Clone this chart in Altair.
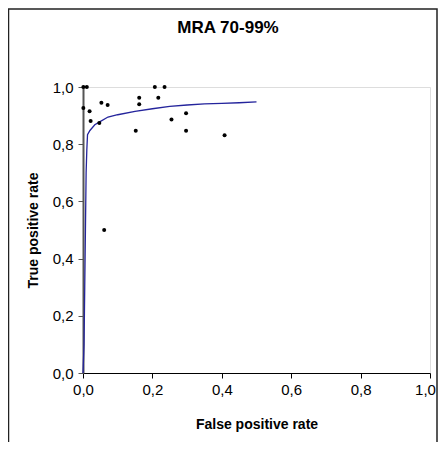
import altair as alt
import pandas as pd

# Observed study points (false positive rate, true positive rate)
pt_fpr = [0.001, 0.011, 0.207, 0.235, 0.001, 0.019, 0.022, 0.053, 0.071, 0.047,
          0.162, 0.162, 0.217, 0.152, 0.255, 0.297, 0.297, 0.408, 0.061]
pt_tpr = [1.0, 1.0, 1.0, 1.0, 0.927, 0.915, 0.881, 0.945, 0.937, 0.874,
          0.962, 0.940, 0.962, 0.847, 0.886, 0.908, 0.847, 0.831, 0.5]

# Summary ROC curve
curve_fpr = [0.0, 0.003, 0.005, 0.007, 0.009, 0.011, 0.013, 0.02, 0.034, 0.048,
             0.072, 0.1, 0.15, 0.2, 0.25, 0.3, 0.35, 0.4, 0.45, 0.5]
curve_tpr = [0.0, 0.1, 0.3, 0.5, 0.7, 0.78, 0.833, 0.848, 0.868, 0.878,
             0.895, 0.903, 0.915, 0.924, 0.932, 0.937, 0.941, 0.943, 0.945, 0.948]

ticks = [0.0, 0.2, 0.4, 0.6, 0.8, 1.0]
title_text = ["MRA 70-99%"]

points = pd.DataFrame({"fpr": pt_fpr, "tpr": pt_tpr})
curve = pd.DataFrame({"fpr": curve_fpr, "tpr": curve_tpr, "order": list(range(len(curve_fpr)))})

FONT = "Liberation Sans"
lab = "replace(format(datum.value, '.1f'), '.', ',')"

xenc = alt.X("fpr:Q", scale=alt.Scale(domain=[0, 1], nice=False),
             axis=alt.Axis(values=ticks, labelExpr=lab, title="False positive rate",
                           grid=False, domainColor="black", tickColor="black",
                           domainWidth=1, tickSize=5, labelPadding=4, labelFlush=False,
                           labelOffset={"condition": {"test": "datum.value == 1", "value": -5}, "value": 0},
                           labelFontSize=15, labelColor="black", labelFont=FONT,
                           titleFont=FONT, titleFontSize=14, titleFontWeight="bold",
                           titleColor="black", titleBaseline="alphabetic", titleY=55))
yenc = alt.Y("tpr:Q", scale=alt.Scale(domain=[0, 1], nice=False),
             axis=alt.Axis(values=ticks, labelExpr=lab, title="True positive rate",
                           grid=False, domainColor="#555555", tickColor="#555555",
                           domainWidth=2, tickSize=5, labelPadding=5, labelFlush=False,
                           labelFontSize=15, labelColor="black", labelFont=FONT,
                           titleFont=FONT, titleFontSize=14, titleFontWeight="bold",
                           titleColor="black", titleBaseline="bottom", titleX=-43,
                           titleY=143))

line = alt.Chart(curve).mark_line(color="#24249c", strokeWidth=1.3).encode(
    x=xenc, y=yenc, order="order:Q")
dots = alt.Chart(points).mark_circle(color="black", opacity=1, size=16).encode(
    x="fpr:Q", y="tpr:Q")

one = pd.DataFrame({"t": title_text})
frame = alt.Chart(one).mark_rect(
    fill="white", fillOpacity=0, stroke="#222222", strokeWidth=1.5, clip=False
).encode(x=alt.value(-74.5), x2=alt.value(354), y=alt.value(-78), y2=alt.value(420))

title = alt.Chart(one).mark_text(
    font=FONT, fontSize=17, fontWeight="bold", color="black",
    align="center", baseline="alphabetic", clip=False
).encode(text="t:N", x=alt.value(145), y=alt.value(-54))

chart = alt.layer(frame, line, dots, title).properties(
    width=347, height=286,
    autosize=alt.AutoSizeParams(type="none"),
    padding={"left": 75, "top": 79, "right": 8, "bottom": 69},
).configure_view(stroke="#a6a6a6", strokeWidth=1.5).configure(background="white")

chart.save("out.html", embed_options={"renderer": "svg", "actions": False})
